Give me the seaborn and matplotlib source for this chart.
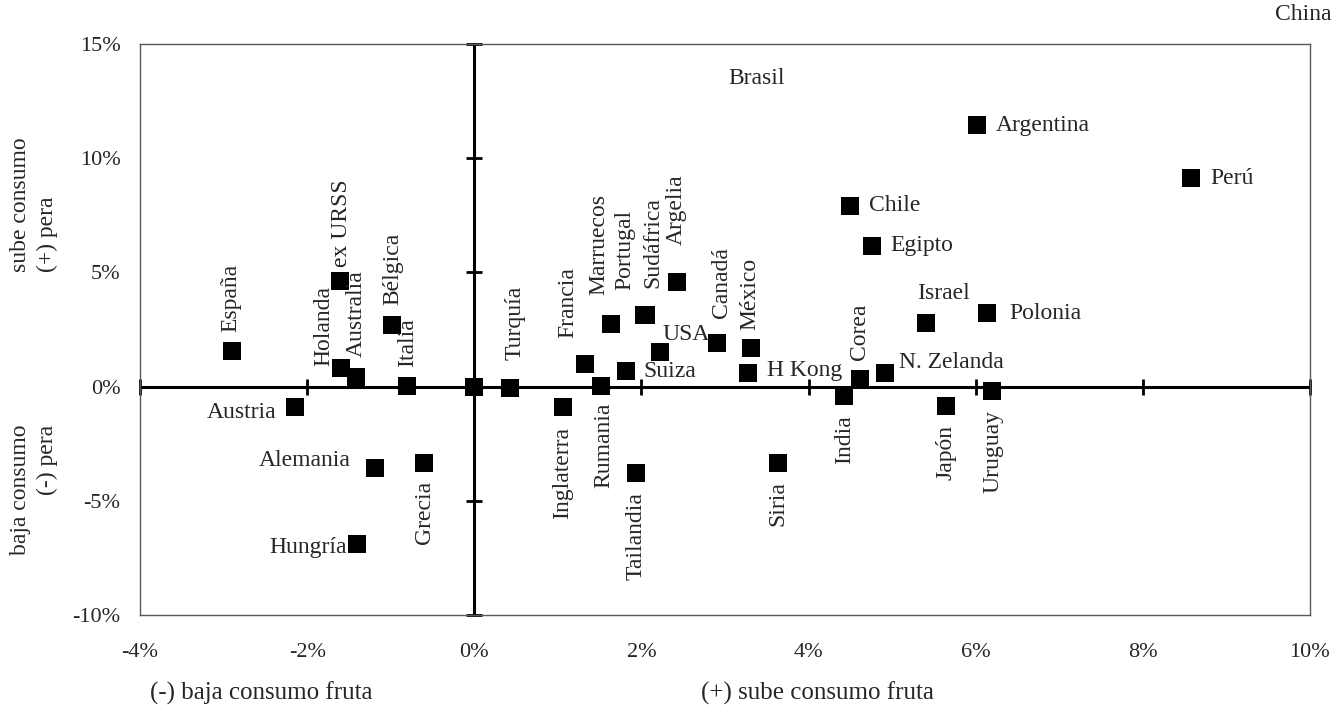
import numpy as np
import pandas as pd
import matplotlib.pyplot as plt
import seaborn as sns

# variacion anual del consumo (%) por pais
paises = ['España', 'ex URSS', 'Holanda', 'Australia', 'Bélgica', 'Italia', '',
          'Austria', 'Alemania', 'Grecia', 'Hungría', 'Turquía', 'Inglaterra',
          'Francia', 'Rumania', 'Marruecos', 'Suiza', 'Portugal', 'Sudáfrica',
          'USA', 'Argelia', 'Tailandia', 'Canadá', 'México', 'H Kong', 'Siria',
          'India', 'Corea', 'N. Zelanda', 'Chile', 'Egipto', 'Israel', 'Japón',
          'Argentina', 'Polonia', 'Uruguay', 'Perú']
fruta = [-2.90, -1.61, -1.60, -1.41, -0.98, -0.80, 0.00,
         -2.15, -1.19, -0.60, -1.40, 0.43, 1.06,
         1.32, 1.52, 1.64, 1.82, 2.03, 2.05,
         2.22, 2.43, 1.94, 2.91, 3.31, 3.27, 3.63,
         4.43, 4.61, 4.92, 4.50, 4.76, 5.41, 5.64,
         6.01, 6.13, 6.20, 8.58]
pera = [1.55, 4.62, 0.80, 0.43, 2.70, 0.03, 0.00,
        -0.91, -3.58, -3.36, -6.89, -0.07, -0.88,
        0.99, 0.03, 2.74, 0.68, 3.13, 3.15,
        1.50, 4.59, -3.77, 1.90, 1.68, 0.61, -3.36,
        -0.41, 0.32, 0.61, 7.91, 6.17, 2.77, -0.85,
        11.45, 3.21, -0.18, 9.12]

x_ticks = np.arange(-4, 11, 2)
y_ticks = np.arange(-10, 16, 5)

df = pd.DataFrame({'pais': paises, 'fruta': fruta, 'pera': pera})

# posicion de cada etiqueta (modo, dx, dy en pixeles)
etiquetas = {
    'España': ('up', -1, 19), 'ex URSS': ('up', 2, 14), 'Holanda': ('up', -17, 2),
    'Australia': ('up', 0, 20), 'Bélgica': ('up', 0, 20), 'Italia': ('up', 0, 19),
    'Turquía': ('up', 5, 28), 'Francia': ('up', -17, 26), 'Marruecos': ('up', -12, 29),
    'Portugal': ('up', -19, 25), 'Sudáfrica': ('up', 7, 27), 'Argelia': ('up', -1, 37),
    'Canadá': ('up', 4, 25), 'México': ('up', -1, 18), 'Corea': ('up', 0, 19),
    'Grecia': ('down', 0, 18), 'Inglaterra': ('down', 0, 20), 'Rumania': ('down', 3, 17),
    'Tailandia': ('down', 0, 19), 'Siria': ('down', 0, 18), 'India': ('down', 0, 19),
    'Japón': ('down', 0, 19), 'Uruguay': ('down', 1, 19),
    'Austria': ('left', -18, -5), 'Alemania': ('left', -24, 8), 'Hungría': ('left', -10, -4),
    'Suiza': ('right', 17, 0), 'USA': ('right', 3, 18), 'H Kong': ('right', 19, 2),
    'Argentina': ('right', 19, 0), 'Perú': ('right', 19, 0), 'Chile': ('right', 19, 0),
    'Egipto': ('right', 18, 0), 'Polonia': ('right', 23, 0), 'N. Zelanda': ('right', 14, 10),
    'Israel': ('center', 17, 30),
}

sns.set_style('white')
plt.rcParams['font.family'] = ['Liberation Serif', 'DejaVu Serif']
fs = 17

fig = plt.figure(figsize=(13.36, 7.12), dpi=100)
ax = fig.add_axes([0.1048, 0.1362, 0.8757, 0.802])

# ejes cruzados en el origen
ax.axhline(0, color='black', lw=2.2, zorder=2)
ax.axvline(0, color='black', lw=2.2, zorder=2)
ax.plot(x_ticks, np.zeros(len(x_ticks)), ls='', marker='|', ms=11, mew=2,
        color='black', clip_on=False, zorder=2)
ax.plot(np.zeros(len(y_ticks)), y_ticks, ls='', marker='_', ms=11, mew=2,
        color='black', clip_on=False, zorder=2)

sns.scatterplot(data=df, x='fruta', y='pera', marker='s', s=150, color='black',
                linewidth=0, ax=ax, legend=False, zorder=3)

for p, xv, yv in zip(paises, fruta, pera):
    if p not in etiquetas:
        continue
    modo, dx, dy = etiquetas[p]
    if modo == 'up':
        kw = dict(rotation=90, ha='center', va='bottom')
    elif modo == 'down':
        kw = dict(rotation=90, ha='center', va='top')
        dy = -dy
    elif modo == 'left':
        kw = dict(ha='right', va='center')
    elif modo == 'right':
        kw = dict(ha='left', va='center')
    else:
        kw = dict(ha='center', va='center')
    ax.annotate(p, (xv, yv), xytext=(dx, dy), textcoords='offset pixels',
                fontsize=fs, zorder=4, **kw)

ax.set_xlim(-4, 10)
ax.set_ylim(-10, 15)
ax.set_xticks(x_ticks)
ax.set_yticks(y_ticks)
ax.set_xticklabels([f'{v:.0f}%' for v in x_ticks])
ax.set_yticklabels([f'{v:.0f}%' for v in y_ticks])
ax.tick_params(axis='x', length=0, pad=20, labelsize=16)
ax.tick_params(axis='y', length=0, pad=14, labelsize=16)
ax.set_xlabel('')
ax.set_ylabel('')
for s in ax.spines.values():
    s.set_color('#595959')
    s.set_linewidth(1)

# titulos de los ejes
fig.text(261 / 1336, 1 - 693 / 712, '(-) baja consumo fruta', ha='center', va='center', fontsize=18)
fig.text(817 / 1336, 1 - 693 / 712, '(+) sube consumo fruta', ha='center', va='center', fontsize=18)
fig.text(34 / 1336, 1 - 205 / 712, 'sube consumo\n(+) pera', rotation=90, ha='center',
         va='center', multialignment='left', linespacing=1.4, fontsize=17)
fig.text(34 / 1336, 1 - 490 / 712, 'baja consumo\n(-) pera', rotation=90, ha='center',
         va='center', multialignment='right', linespacing=1.4, fontsize=17)

# etiquetas sin marcador
fig.text(757 / 1336, 1 - 78 / 712, 'Brasil', ha='center', va='center', fontsize=fs)
fig.text(1332 / 1336, 1 - 15 / 712, 'China', ha='right', va='center', fontsize=fs)

fig.savefig('out.png', dpi=100)
